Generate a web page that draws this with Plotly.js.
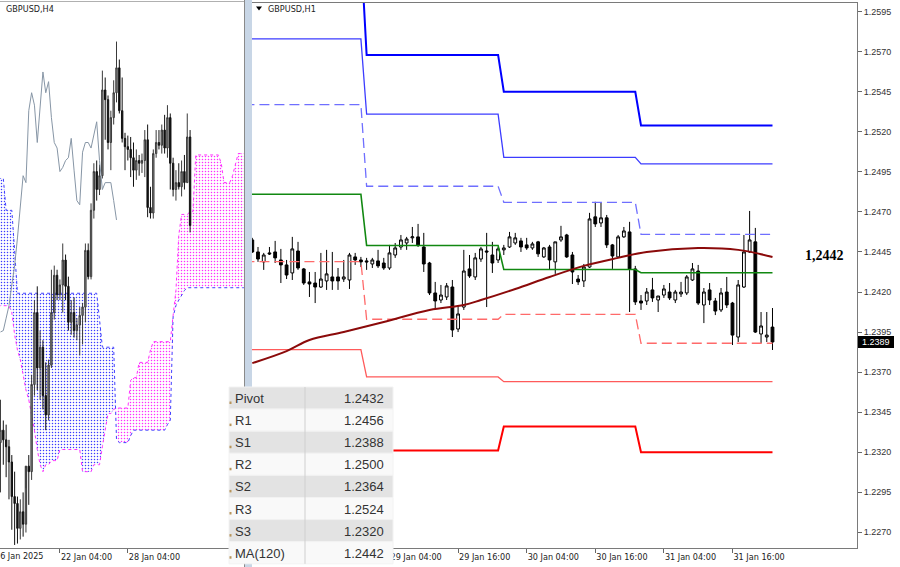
<!DOCTYPE html>
<html><head><meta charset="utf-8">
<script src="https://cdn.plot.ly/plotly-3.0.1.min.js"></script>
<style>html,body{margin:0;padding:0;background:#fff;}#chart{width:900px;height:567px;}</style>
</head><body><div id="chart"></div>
<script>
// ================= H1 panel data (GBPUSD,H1) =================
const h1StartUTC = Date.UTC(2025, 0, 28, 4); // first hourly bar: 28 Jan 04:00
const h1Open = [1.24525,1.24450,1.24388,1.24444,1.24450,1.24400,1.24369,1.24319,1.24456,1.24344,
1.24263,1.24256,1.24231,1.24269,1.24294,1.24294,1.24281,1.24275,1.24419,1.24400,
1.24394,1.24375,1.24394,1.24381,1.24350,1.24431,1.24481,1.24506,1.24538,1.24544,
1.24481,1.24381,1.24194,1.24150,1.24169,1.24231,1.23969,1.24106,1.24344,1.24294,
1.24406,1.24456,1.24431,1.24400,1.24463,1.24481,1.24506,1.24519,1.24494,1.24475,
1.24513,1.24419,1.24481,1.24388,1.24525,1.24556,1.24431,1.24281,1.24269,1.24356,
1.24669,1.24631,1.24663,1.24494,1.24419,1.24544,1.24575,1.24344,1.24144,1.24144,
1.24213,1.24150,1.24181,1.24200,1.24150,1.24188,1.24194,1.24275,1.24331,1.24119,
1.24213,1.24144,1.24088,1.24200,1.24131,1.23919,1.24231,1.24450,1.24513,1.23938,
1.23919,1.23981];
const h1High = [1.24538,1.24481,1.24444,1.24481,1.24519,1.24469,1.24400,1.24544,1.24513,1.24350,
1.24325,1.24325,1.24444,1.24463,1.24450,1.24350,1.24400,1.24444,1.24444,1.24419,
1.24413,1.24413,1.24463,1.24413,1.24494,1.24506,1.24556,1.24544,1.24606,1.24625,
1.24569,1.24388,1.24263,1.24244,1.24256,1.24275,1.24113,1.24463,1.24431,1.24444,
1.24481,1.24569,1.24513,1.24481,1.24494,1.24575,1.24569,1.24538,1.24538,1.24513,
1.24519,1.24481,1.24494,1.24513,1.24613,1.24563,1.24450,1.24306,1.24375,1.24694,
1.24763,1.24756,1.24681,1.24500,1.24556,1.24606,1.24638,1.24363,1.24181,1.24225,
1.24288,1.24175,1.24244,1.24256,1.24213,1.24263,1.24306,1.24381,1.24369,1.24225,
1.24256,1.24163,1.24225,1.24294,1.24138,1.24275,1.24556,1.24706,1.24600,1.24075,
1.24075,1.24100];
const h1Low = [1.24444,1.24388,1.24338,1.24431,1.24381,1.24256,1.24281,1.24275,1.24338,1.24244,
1.24169,1.24131,1.24225,1.24213,1.24213,1.24213,1.24263,1.24219,1.24369,1.24356,
1.24338,1.24350,1.24350,1.24338,1.24338,1.24413,1.24463,1.24463,1.24506,1.24481,
1.24325,1.24181,1.24088,1.24131,1.24150,1.23919,1.23950,1.24088,1.24288,1.24275,
1.24388,1.24106,1.24319,1.24381,1.24431,1.24475,1.24494,1.24450,1.24463,1.24463,
1.24419,1.24413,1.24338,1.24313,1.24513,1.24413,1.24250,1.24244,1.24231,1.24350,
1.24606,1.24606,1.24475,1.24344,1.24413,1.24538,1.24075,1.24119,1.24088,1.24119,
1.24138,1.24075,1.24163,1.24150,1.24131,1.24169,1.24181,1.24269,1.24119,1.24006,
1.24119,1.24056,1.24075,1.24100,1.23869,1.23888,1.24225,1.24444,1.23944,1.23881,
1.23888,1.23838];
const h1Close = [1.24450,1.24406,1.24431,1.24438,1.24413,1.24369,1.24306,1.24469,1.24350,1.24256,
1.24250,1.24231,1.24281,1.24313,1.24269,1.24269,1.24294,1.24431,1.24400,1.24388,
1.24388,1.24400,1.24363,1.24350,1.24444,1.24475,1.24525,1.24531,1.24544,1.24494,
1.24375,1.24194,1.24144,1.24181,1.24238,1.23963,1.24063,1.24331,1.24300,1.24413,
1.24469,1.24450,1.24381,1.24469,1.24475,1.24544,1.24538,1.24481,1.24475,1.24500,
1.24438,1.24475,1.24400,1.24513,1.24544,1.24419,1.24325,1.24263,1.24356,1.24656,
1.24625,1.24663,1.24494,1.24425,1.24544,1.24581,1.24344,1.24138,1.24131,1.24200,
1.24163,1.24175,1.24219,1.24163,1.24200,1.24200,1.24294,1.24344,1.24131,1.24200,
1.24150,1.24081,1.24194,1.24119,1.23931,1.24244,1.24450,1.24525,1.23950,1.23988,
1.23931,1.23888];

// Daily pivot levels (28, 29, 30, 31 Jan)
const pivotDays = ['2025-01-28','2025-01-29','2025-01-30','2025-01-31'];
const pivotR3 = [1.2634,1.2568,1.2545,1.2524];
const pivotR2 = [1.2578,1.2531,1.2504,1.2500];
const pivotR1 = [1.2537,1.2486,1.2476,1.2456];
const pivotP  = [1.2481,1.2449,1.2434,1.2432];
const pivotS1 = [1.2439,1.2403,1.2406,1.2388];
const pivotS2 = [1.2384,1.2367,1.2364,1.2364];
const pivotS3 = [1.2343,1.2321,1.2336,1.2320];

// MA(120) read at selected hourly bars
const maHours  = [0,6,10,16,23,31,37,40,46,52,58,64,69,78,85,91];
const maValues = [1.23756,1.23831,1.23900,1.23950,1.24013,1.24088,1.24119,1.24150,1.24219,1.24294,1.24363,1.24413,1.24450,1.24475,1.24463,1.24419];

const tableLabels = ['Pivot','R1','S1','R2','S2','R3','S3','MA(120)'];
const yTickStart = 1.2270, yTickStep = 0.0025;
const h1TickTimes = ['2025-01-29 04:00','2025-01-29 16:00','2025-01-30 04:00','2025-01-30 16:00','2025-01-31 04:00','2025-01-31 16:00'];
const h1TickText  = ['29 Jan 04:00','29 Jan 16:00','30 Jan 04:00','30 Jan 16:00','31 Jan 04:00','31 Jan 16:00'];

// ================= H4 panel data (GBPUSD,H4) =================
const h4FirstBar = 3;  // bar index of first visible H4 bar (bar 0 = 16 Jan)
const h4Open = [1.2232,1.2241,1.2234,1.2229,1.2218,1.2193,1.2188,1.2170,1.2182,1.2173,
1.2215,1.2211,1.2274,1.2326,1.2286,1.2301,1.2266,1.2252,1.2288,1.2326,
1.2353,1.2339,1.2346,1.2364,1.2345,1.2319,1.2326,1.2313,1.2317,1.2324,
1.2330,1.2371,1.2352,1.2400,1.2428,1.2415,1.2425,1.2487,1.2480,1.2449,
1.2467,1.2485,1.2503,1.2472,1.2452,1.2446,1.2444,1.2438,1.2429,1.2436,
1.2434,1.2436,1.2451,1.2402,1.2398,1.2441,1.2449,1.2447,1.2458,1.2445,
1.2467,1.2434,1.2415,1.2420,1.2417,1.2428,1.2420,1.2453];
const h4High = [1.2263,1.2248,1.2245,1.2234,1.2223,1.2211,1.2193,1.2191,1.2196,1.2199,
1.2223,1.2281,1.2335,1.2345,1.2313,1.2306,1.2290,1.2292,1.2357,1.2360,
1.2357,1.2350,1.2376,1.2368,1.2352,1.2335,1.2337,1.2322,1.2330,1.2333,
1.2376,1.2376,1.2405,1.2434,1.2436,1.2433,1.2501,1.2496,1.2483,1.2472,
1.2494,1.2522,1.2509,1.2496,1.2456,1.2454,1.2453,1.2449,1.2444,1.2440,
1.2441,1.2458,1.2462,1.2417,1.2444,1.2458,1.2458,1.2462,1.2469,1.2476,
1.2470,1.2438,1.2429,1.2434,1.2436,1.2440,1.2470,1.2458];
const h4Low = [1.2196,1.2216,1.2207,1.2191,1.2169,1.2158,1.2159,1.2162,1.2164,1.2167,
1.2187,1.2205,1.2266,1.2270,1.2263,1.2256,1.2241,1.2248,1.2286,1.2321,
1.2335,1.2335,1.2326,1.2335,1.2313,1.2310,1.2308,1.2306,1.2295,1.2303,
1.2319,1.2350,1.2350,1.2394,1.2407,1.2411,1.2423,1.2451,1.2444,1.2429,
1.2462,1.2478,1.2470,1.2449,1.2429,1.2436,1.2424,1.2417,1.2422,1.2425,
1.2427,1.2424,1.2395,1.2394,1.2394,1.2438,1.2444,1.2441,1.2441,1.2438,
1.2415,1.2410,1.2407,1.2415,1.2410,1.2415,1.2420,1.2384];
const h4Close = [1.2241,1.2234,1.2229,1.2218,1.2193,1.2188,1.2170,1.2182,1.2173,1.2215,
1.2211,1.2274,1.2326,1.2286,1.2301,1.2266,1.2252,1.2288,1.2326,1.2353,
1.2339,1.2346,1.2364,1.2345,1.2319,1.2326,1.2313,1.2317,1.2324,1.2330,
1.2371,1.2352,1.2400,1.2428,1.2415,1.2425,1.2487,1.2480,1.2449,1.2467,
1.2485,1.2503,1.2472,1.2452,1.2446,1.2444,1.2438,1.2429,1.2436,1.2434,
1.2436,1.2451,1.2402,1.2398,1.2441,1.2449,1.2447,1.2458,1.2445,1.2467,
1.2434,1.2415,1.2420,1.2417,1.2428,1.2420,1.2453,1.2389];

// Ichimoku cloud spans, bars 2..89
const spanFirstBar = 2;
const spanA = [1.2423,1.2423,1.2423,1.2400,1.2400,1.2400,1.2371,
1.2340,1.2340,1.2340,1.2340,1.2340,1.2340,1.2340,1.2340,1.2340,1.2340,
1.2340,1.2340,1.2340,1.2340,1.2340,1.2340,1.2340,1.2340,1.2340,1.2340,
1.2340,1.2340,1.2340,1.2340,1.2340,1.2340,1.2340,1.2340,1.2340,
1.2321,1.2301,1.2301,1.2301,1.2301,1.2301,1.2234,1.2232,1.2232,1.2232,1.2232,1.2237,
1.2241,1.2241,1.2241,1.2241,1.2241,1.2241,1.2241,1.2241,1.2241,1.2241,1.2241,1.2241,
1.2245,1.2248,1.2323,1.2331,1.2335,1.2339,1.2342,
1.2344,1.2344,1.2344,1.2344,1.2344,1.2344,1.2344,1.2344,1.2344,1.2344,1.2344,
1.2344,1.2344,1.2344,1.2344,1.2344,1.2344,1.2344,1.2344,1.2344,1.2344];
const spanB = [1.2331,1.2331,1.2331,1.2331,1.2331,1.2326,1.2310,1.2299,1.2292,1.2281,1.2270,1.2263,1.2253,1.2241,1.2227,1.2216,1.2211,
1.2216,1.2216,1.2219,1.2219,1.2219,1.2227,1.2227,1.2227,1.2227,1.2227,1.2227,1.2227,1.2227,
1.2211,1.2211,1.2211,1.2211,1.2216,1.2216,1.2216,1.2229,1.2241,1.2253,1.2253,1.2256,
1.2257,1.2257,1.2257,1.2257,1.2257,1.2277,1.2279,1.2279,1.2290,1.2290,1.2290,1.2290,1.2299,
1.2305,1.2305,1.2305,1.2305,1.2305,1.2305,1.2305,1.2324,1.2342,1.2382,1.2397,1.2397,1.2397,
1.2399,1.2399,1.2440,1.2440,1.2440,1.2440,1.2440,1.2440,1.2440,1.2440,1.2440,
1.2434,1.2420,1.2420,1.2420,1.2425,1.2433,1.2441,1.2441,1.2441];

// Chikou span (close shifted back 26 bars), bars 3..44
const chikouFirstBar = 3;
const chikou = [1.2312,1.2313,1.2322,1.2331,1.2346,1.2360,1.2380,1.2404,1.2425,1.2420,
1.2472,1.2485,1.2476,1.2449,1.2472,1.2500,1.2485,1.2493,1.2467,1.2449,
1.2445,1.2428,1.2431,1.2436,1.2438,1.2452,1.2429,1.2407,1.2404,1.2442,
1.2449,1.2449,1.2445,1.2454,1.2464,1.2436,1.2415,1.2420,1.2420,1.2420,
1.2407,1.2393];

const h4TickBars = [0, 24, 48];
const h4TickText = ['16 Jan 2025', '22 Jan 04:00', '28 Jan 04:00'];

// ================= build =================
const W = 900, H = 567;
const px = x => x / W, py = y => 1 - y / H;
const hourStr = i => new Date(h1StartUTC + i * 3600000).toISOString().slice(0, 16).replace('T', ' ');
const h1X = h1Open.map((_, i) => hourStr(i));
const h4X = h4Open.map((_, i) => h4FirstBar + i);
const spanX = spanA.map((_, i) => spanFirstBar + i);
const chikouX = chikou.map((_, i) => chikouFirstBar + i);

const traces = [];

// --- cloud polygons (split where spans cross)
function cloudRuns(xs, a, b) {
  const runs = [];
  let run = null;
  for (let i = 0; i < xs.length; i++) {
    const s = a[i] >= b[i] ? 1 : -1;
    if (!run) { run = {s, x: [xs[i]], a: [a[i]], b: [b[i]]}; continue; }
    if (s !== run.s) {
      const d0 = a[i-1] - b[i-1], d1 = a[i] - b[i];
      const t = d0 / (d0 - d1);
      const xc = xs[i-1] + t * (xs[i] - xs[i-1]);
      const yc = a[i-1] + t * (a[i] - a[i-1]);
      run.x.push(xc); run.a.push(yc); run.b.push(yc);
      runs.push(run);
      run = {s, x: [xc, xs[i]], a: [yc, a[i]], b: [yc, b[i]]};
    } else { run.x.push(xs[i]); run.a.push(a[i]); run.b.push(b[i]); }
  }
  if (run) runs.push(run);
  return runs;
}
cloudRuns(spanX, spanA, spanB).forEach(r => {
  const col = r.s > 0 ? '#3a3aff' : '#ff2cff';
  traces.push({
    type: 'scatter', mode: 'lines', xaxis: 'x', yaxis: 'y', hoverinfo: 'skip', showlegend: false,
    x: r.x.concat(r.x.slice().reverse()), y: r.a.concat(r.b.slice().reverse()),
    fill: 'toself', line: {width: 0}, fillcolor: 'rgba(255,255,255,0)',
    fillpattern: {shape: '.', fgcolor: col, bgcolor: 'rgba(255,255,255,0)', size: 3, solidity: 0.2, fillmode: 'replace'}
  });
});
traces.push({type: 'scatter', mode: 'lines', xaxis: 'x', yaxis: 'y', hoverinfo: 'skip', showlegend: false,
  x: spanX, y: spanA, line: {color: '#4040ff', width: 1, dash: 'dot'}});
traces.push({type: 'scatter', mode: 'lines', xaxis: 'x', yaxis: 'y', hoverinfo: 'skip', showlegend: false,
  x: spanX, y: spanB, line: {color: '#ff30ff', width: 1, dash: 'dot'}});

// --- H4 candles + chikou on overlay axes
traces.push({
  type: 'candlestick', xaxis: 'x3', yaxis: 'y3', hoverinfo: 'skip', showlegend: false,
  x: h4X, open: h4Open, high: h4High, low: h4Low, close: h4Close,
  increasing: {line: {color: '#3a3a3a', width: 1}, fillcolor: '#8c8c8c'},
  decreasing: {line: {color: '#111111', width: 1}, fillcolor: '#111111'}
});
traces.push({type: 'scatter', mode: 'lines', xaxis: 'x3', yaxis: 'y3', hoverinfo: 'skip', showlegend: false,
  x: chikouX, y: chikou, line: {color: '#8796a6', width: 1}});

// --- H1 candles
traces.push({
  type: 'candlestick', xaxis: 'x2', yaxis: 'y2', hoverinfo: 'skip', showlegend: false,
  x: h1X, open: h1Open, high: h1High, low: h1Low, close: h1Close,
  increasing: {line: {color: '#000000', width: 1}, fillcolor: '#ffffff'},
  decreasing: {line: {color: '#000000', width: 1}, fillcolor: '#000000'}
});

// --- pivot levels
function levelTrace(vals, color, width, dash) {
  const xs = [], ys = [];
  pivotDays.forEach((d, i) => { xs.push(d + ' 00:00', d + ' 23:00'); ys.push(vals[i], vals[i]); });
  return {type: 'scatter', mode: 'lines', xaxis: 'x2', yaxis: 'y2', hoverinfo: 'skip', showlegend: false,
    x: xs, y: ys, line: {color, width, dash: dash || 'solid'}};
}
traces.push(levelTrace(pivotR3, '#0000ff', 2));
traces.push(levelTrace(pivotR2, '#3c3cff', 1.3));
traces.push(levelTrace(pivotR1, '#6f6fff', 1.3, '10px,5px'));
traces.push(levelTrace(pivotP, '#118811', 1.6));
traces.push(levelTrace(pivotS1, '#ff6a6a', 1.3, '10px,5px'));
traces.push(levelTrace(pivotS2, '#ff5a5a', 1.3));
traces.push(levelTrace(pivotS3, '#ff0000', 2));

// --- MA(120)
traces.push({type: 'scatter', mode: 'lines', xaxis: 'x2', yaxis: 'y2', hoverinfo: 'skip', showlegend: false,
  x: maHours.map(hourStr), y: maValues, line: {color: '#8b0a0a', width: 2, shape: 'spline', smoothing: 1}});

// ================= layout =================
const narrow = 'Liberation Sans Narrow, DejaVu Sans Condensed, Arial Narrow, sans-serif';
const sans = 'Liberation Sans, Arial, sans-serif';
const leftRange = [1.21558, 1.25506];
const leftX = [2.83, 89.05];
const leftW = 244;
const barToPx = b => (b - leftX[0]) / (leftX[1] - leftX[0]) * leftW;

const shapes = [];
const annotations = [];

// separator band between the two charts
shapes.push({type: 'rect', xref: 'paper', yref: 'paper', x0: px(244), x1: px(252), y0: 0, y1: 1,
  fillcolor: '#c8d6e6', line: {width: 0}, layer: 'above'});
shapes.push({type: 'line', xref: 'paper', yref: 'paper', x0: px(244.5), x1: px(244.5), y0: 0, y1: 1,
  line: {color: '#8a8a8a', width: 1}, layer: 'above'});
shapes.push({type: 'line', xref: 'paper', yref: 'paper', x0: 0, x1: px(244), y0: py(1.5), y1: py(1.5),
  line: {color: '#b0b0b0', width: 1}, layer: 'above'});

// title triangle of H1
shapes.push({type: 'path', xref: 'paper', yref: 'paper', layer: 'above',
  path: `M ${px(256)} ${py(6.5)} L ${px(262)} ${py(6.5)} L ${px(259)} ${py(10.5)} Z`,
  fillcolor: '#000', line: {width: 0}});

// price tag for last close
const lastClose = h1Close[h1Close.length - 1];
const tagY = 12 + (1.2595 - lastClose) * 16000;
shapes.push({type: 'rect', xref: 'paper', yref: 'paper', x0: px(858), x1: px(894), y0: py(tagY - 6), y1: py(tagY + 6),
  fillcolor: '#000', line: {width: 0}, layer: 'above'});
annotations.push({xref: 'paper', yref: 'paper', x: px(860), y: py(tagY), xanchor: 'left', yanchor: 'middle',
  text: lastClose.toFixed(4), showarrow: false, font: {family: sans, size: 9, color: '#fff'}});

// MA value label
const maLast = maValues[maValues.length - 1];
annotations.push({xref: 'paper', yref: 'paper', x: px(803), y: py(255), xanchor: 'left', yanchor: 'middle',
  text: '<b>' + maLast.toFixed(4).replace('.', ',') + '</b>', showarrow: false,
  font: {family: 'Liberation Serif, Times New Roman, serif', size: 14, color: '#000'}});

// chart captions
annotations.push({xref: 'paper', yref: 'paper', x: px(266), y: py(9), xanchor: 'left', yanchor: 'middle',
  text: 'GBPUSD,H1', showarrow: false, font: {family: narrow, size: 9, color: '#222'}});
annotations.push({xref: 'paper', yref: 'paper', x: px(4), y: py(9), xanchor: 'left', yanchor: 'middle',
  text: 'GBPUSD,H4', showarrow: false, font: {family: narrow, size: 9, color: '#222'}});

// first H4 date label (its tick lies left of the visible area, as in the original screenshot)
annotations.push({xref: 'paper', yref: 'paper', x: px(barToPx(h4TickBars[0]) + 1), y: py(556), xanchor: 'left', yanchor: 'middle',
  text: h4TickText[0], showarrow: false, font: {family: narrow, size: 9, color: '#222'}});

// pivot table
const tableVals = [pivotP[3], pivotR1[3], pivotS1[3], pivotR2[3], pivotS2[3], pivotR3[3], pivotS3[3], maLast];
const tTop = 387, rowH = 22.1, tL = 229, tR = 393, tC = 305;
tableLabels.forEach((lab, r) => {
  const y0 = tTop + r * rowH, y1 = y0 + rowH;
  shapes.push({type: 'rect', xref: 'paper', yref: 'paper', x0: px(tL), x1: px(tR), y0: py(y1), y1: py(y0),
    fillcolor: r % 2 === 0 ? '#e3e3e3' : '#f9f9f9', line: {color: '#f2f2f2', width: 1}, layer: 'above'});
  shapes.push({type: 'rect', xref: 'paper', yref: 'paper', x0: px(229.5), x1: px(231.5), y0: py(y0 + 17), y1: py(y0 + 14.5),
    fillcolor: '#b8955a', line: {width: 0}, layer: 'above'});
  annotations.push({xref: 'paper', yref: 'paper', x: px(233), y: py(y0 + rowH / 2 + 0.5), xanchor: 'left', yanchor: 'middle',
    text: lab, showarrow: false, font: {family: sans, size: 13, color: '#333'}});
  annotations.push({xref: 'paper', yref: 'paper', x: px(386), y: py(y0 + rowH / 2 + 0.5), xanchor: 'right', yanchor: 'middle',
    text: tableVals[r].toFixed(4), showarrow: false, font: {family: sans, size: 13, color: '#333'}});
});
shapes.push({type: 'line', xref: 'paper', yref: 'paper', x0: px(tC), x1: px(tC), y0: py(tTop + 8 * rowH), y1: py(tTop),
  line: {color: '#cfcfcf', width: 1}, layer: 'above'});

const layout = {
  width: W, height: H, margin: {l: 0, r: 0, t: 0, b: 0}, paper_bgcolor: '#fff', plot_bgcolor: '#fff',
  showlegend: false, shapes, annotations,
  xaxis: {domain: [0, px(leftW)], anchor: 'y', range: leftX, showgrid: false, zeroline: false,
    tickmode: 'array', tickvals: h4TickBars, ticktext: h4TickText, ticks: 'outside', ticklen: 4, tickcolor: '#666',
    ticklabelposition: 'outside right', tickfont: {family: narrow, size: 9, color: '#222'},
    showline: true, linecolor: '#7a7a7a', linewidth: 1, rangeslider: {visible: false}, fixedrange: true},
  yaxis: {domain: [py(548), py(2)], anchor: 'x', range: leftRange, showgrid: false, zeroline: false,
    showticklabels: false, ticks: '', showline: false, fixedrange: true},
  xaxis3: {overlaying: 'x', range: leftX, visible: false, rangeslider: {visible: false}, fixedrange: true},
  yaxis3: {overlaying: 'y', range: leftRange, visible: false, fixedrange: true},
  xaxis2: {domain: [px(252), px(857)], anchor: 'y2', type: 'date',
    range: ['2025-01-28 03:57', '2025-02-01 13:47'], tickmode: 'array', tickvals: h1TickTimes, ticktext: h1TickText,
    ticks: 'outside', ticklen: 4, tickcolor: '#666',
    ticklabelposition: 'outside right', tickfont: {family: narrow, size: 9, color: '#222'},
    showgrid: false, zeroline: false, showline: true, mirror: true, linecolor: '#7a7a7a', linewidth: 1,
    rangeslider: {visible: false}, fixedrange: true},
  yaxis2: {domain: [py(548), py(3)], anchor: 'x2', side: 'right', range: [1.22602, 1.26004],
    tick0: yTickStart, dtick: yTickStep, tickformat: '.4f', ticks: 'outside', ticklen: 4, tickcolor: '#666',
    tickfont: {family: sans, size: 9, color: '#333'}, showgrid: false, zeroline: false,
    showline: true, mirror: true, linecolor: '#7a7a7a', linewidth: 1, fixedrange: true}
};

Plotly.newPlot('chart', traces, layout, {displayModeBar: false, staticPlot: true});
</script>
</body></html>
